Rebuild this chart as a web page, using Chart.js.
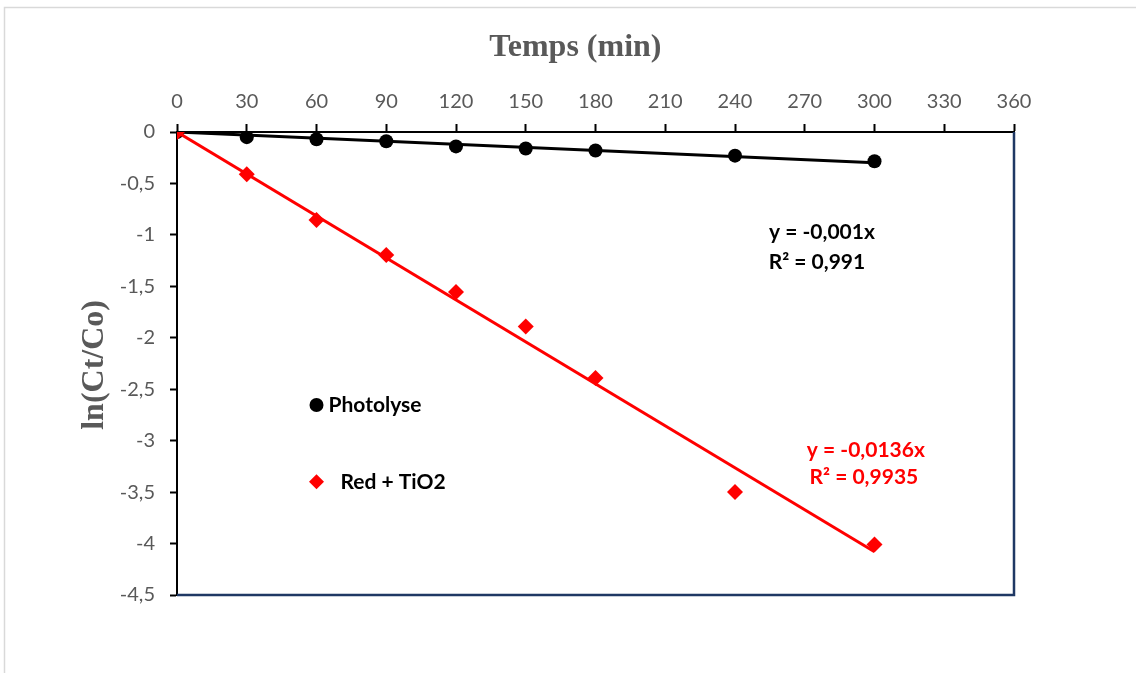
<!DOCTYPE html>
<html>
<head>
<meta charset="utf-8">
<script src="https://cdn.jsdelivr.net/npm/chart.js@4/dist/chart.umd.min.js"></script>
<style>
  html, body { margin: 0; padding: 0; background: #fff; }
  #wrap { width: 1136px; height: 673px; position: relative; }
</style>
</head>
<body>
<div id="wrap"><canvas id="c" width="1136" height="673"></canvas></div>
<script>
// Time points (min)
const temps = [0, 30, 60, 90, 120, 150, 180, 240, 300];
// ln(Ct/Co) for each series
const photolyse = [0, -0.05, -0.07, -0.09, -0.14, -0.16, -0.18, -0.23, -0.285];
const redTiO2 = [0, -0.41, -0.855, -1.195, -1.555, -1.89, -2.39, -3.5, -4.01];
// Linear fits through the origin (slopes as printed on the chart)
const slopePhotolyse = -0.001;
const slopeRedTiO2 = -0.0136;
const fitLabelsPhotolyse = ['y = -0,001x', 'R² = 0,991'];
const fitLabelsRedTiO2 = ['y = -0,0136x', 'R² = 0,9935'];
const legendLabels = ['Photolyse', 'Red + TiO2'];
const xTitle = 'Temps (min)';
const yTitle = 'ln(Ct/Co)';

const pts = (xs, ys) => xs.map((x, i) => ({ x, y: ys[i] }));
const fit = (slope) => [{ x: 0, y: 0 }, { x: temps[temps.length - 1], y: slope * temps[temps.length - 1] }];
const comma = v => String(Math.round(v * 10) / 10).replace('.', ',');

const TICK_FONT = { family: 'Lato, "Open Sans", sans-serif', size: 20 };
const TITLE_CSS = 'bold 32px "Liberation Serif", "Times New Roman", serif';
const LABEL_CSS = 'bold 21px Lato, "Open Sans", sans-serif';

// Frame, axis titles, right/bottom plot border, legend and fit equations
const decor = {
  id: 'decor',
  beforeDraw(chart) {
    const ctx = chart.ctx;
    ctx.save();
    ctx.fillStyle = '#fff';
    ctx.fillRect(0, 0, chart.width, chart.height);
    ctx.strokeStyle = '#d9d9d9';
    ctx.lineWidth = 1.5;
    ctx.beginPath();
    ctx.moveTo(4.5, chart.height);
    ctx.lineTo(4.5, 7.5);
    ctx.lineTo(chart.width, 7.5);
    ctx.stroke();
    ctx.restore();
  },
  afterDraw(chart) {
    const ctx = chart.ctx;
    const a = chart.chartArea;
    const xs = chart.scales.x, ys = chart.scales.y;
    ctx.save();
    // right and bottom border of the plot area
    ctx.strokeStyle = '#1f3864';
    ctx.lineWidth = 2.5;
    ctx.beginPath();
    ctx.moveTo(a.right, a.top);
    ctx.lineTo(a.right, a.bottom);
    ctx.lineTo(a.left, a.bottom);
    ctx.stroke();

    // axis titles
    ctx.font = TITLE_CSS;
    ctx.fillStyle = '#595959';
    ctx.textAlign = 'center';
    ctx.textBaseline = 'middle';
    ctx.fillText(xTitle, a.left + (a.right - a.left) * 0.476, 48);
    ctx.save();
    ctx.translate(95, a.top + (a.bottom - a.top) * 0.503);
    ctx.rotate(-Math.PI / 2);
    ctx.fillText(yTitle, 0, 0);
    ctx.restore();

    // legend
    ctx.font = LABEL_CSS;
    ctx.textBaseline = 'middle';
    ctx.textAlign = 'left';
    const lx = xs.getPixelForValue(60);
    const ly1 = ys.getPixelForValue(-2.653);
    const ly2 = ys.getPixelForValue(-3.40);
    ctx.fillStyle = '#000';
    ctx.beginPath();
    ctx.arc(lx, ly1, 7, 0, Math.PI * 2);
    ctx.fill();
    ctx.fillText(legendLabels[0], lx + 12, ly1);
    ctx.fillStyle = '#ff0000';
    ctx.beginPath();
    ctx.moveTo(lx, ly2 - 7.5);
    ctx.lineTo(lx + 7.5, ly2);
    ctx.lineTo(lx, ly2 + 7.5);
    ctx.lineTo(lx - 7.5, ly2);
    ctx.closePath();
    ctx.fill();
    ctx.fillStyle = '#000';
    ctx.fillText(legendLabels[1], lx + 24, ly2);

    // fit equations
    ctx.textAlign = 'center';
    ctx.fillStyle = '#000';
    const bx = xs.getPixelForValue(277.4);
    ctx.fillText(fitLabelsPhotolyse[0], bx, ys.getPixelForValue(-0.972));
    ctx.fillText(fitLabelsPhotolyse[1], bx - 5, ys.getPixelForValue(-1.263));
    ctx.fillStyle = '#ff0000';
    const rx = xs.getPixelForValue(296.3);
    ctx.fillText(fitLabelsRedTiO2[0], rx, ys.getPixelForValue(-3.09));
    ctx.fillText(fitLabelsRedTiO2[1], rx - 2, ys.getPixelForValue(-3.36));
    ctx.restore();
  }
};

new Chart(document.getElementById('c'), {
  type: 'scatter',
  data: {
    datasets: [
      { label: 'Red + TiO2', data: pts(temps, redTiO2), pointStyle: 'rectRot', pointRadius: 8,
        backgroundColor: '#ff0000', borderColor: '#ff0000', borderWidth: 0, showLine: false, order: 0 },
      { label: 'Red + TiO2 fit', type: 'line', data: fit(slopeRedTiO2), borderColor: '#ff0000', borderWidth: 3,
        pointRadius: 0, fill: false, order: 1 },
      { label: 'Photolyse', data: pts(temps, photolyse), pointStyle: 'circle', pointRadius: 7,
        backgroundColor: '#000', borderColor: '#000', borderWidth: 0, showLine: false, order: 2 },
      { label: 'Photolyse fit', type: 'line', data: fit(slopePhotolyse), borderColor: '#000', borderWidth: 3,
        pointRadius: 0, fill: false, order: 3 }
    ]
  },
  options: {
    responsive: false,
    animation: false,
    layout: { padding: { left: 79, top: 32, right: 122, bottom: 78 } },
    plugins: { legend: { display: false }, tooltip: { enabled: false } },
    scales: {
      x: {
        type: 'linear', position: 'top', min: 0, max: 360,
        afterFit: s => { s.height = 100; },
        ticks: { stepSize: 30, color: '#595959', font: TICK_FONT, padding: 10, maxRotation: 0 },
        grid: { drawOnChartArea: false, drawTicks: true, tickLength: 8, tickColor: '#000', tickWidth: 2 },
        border: { color: '#000', width: 2 }
      },
      y: {
        type: 'linear', min: -4.5, max: 0,
        afterFit: s => { s.width = 98; },
        ticks: { stepSize: 0.5, color: '#595959', font: TICK_FONT, padding: 15, callback: v => comma(v) },
        grid: { drawOnChartArea: false, drawTicks: true, tickLength: 7, tickColor: '#000', tickWidth: 2 },
        border: { color: '#000', width: 2 }
      }
    }
  },
  plugins: [decor]
});
</script>
</body>
</html>
